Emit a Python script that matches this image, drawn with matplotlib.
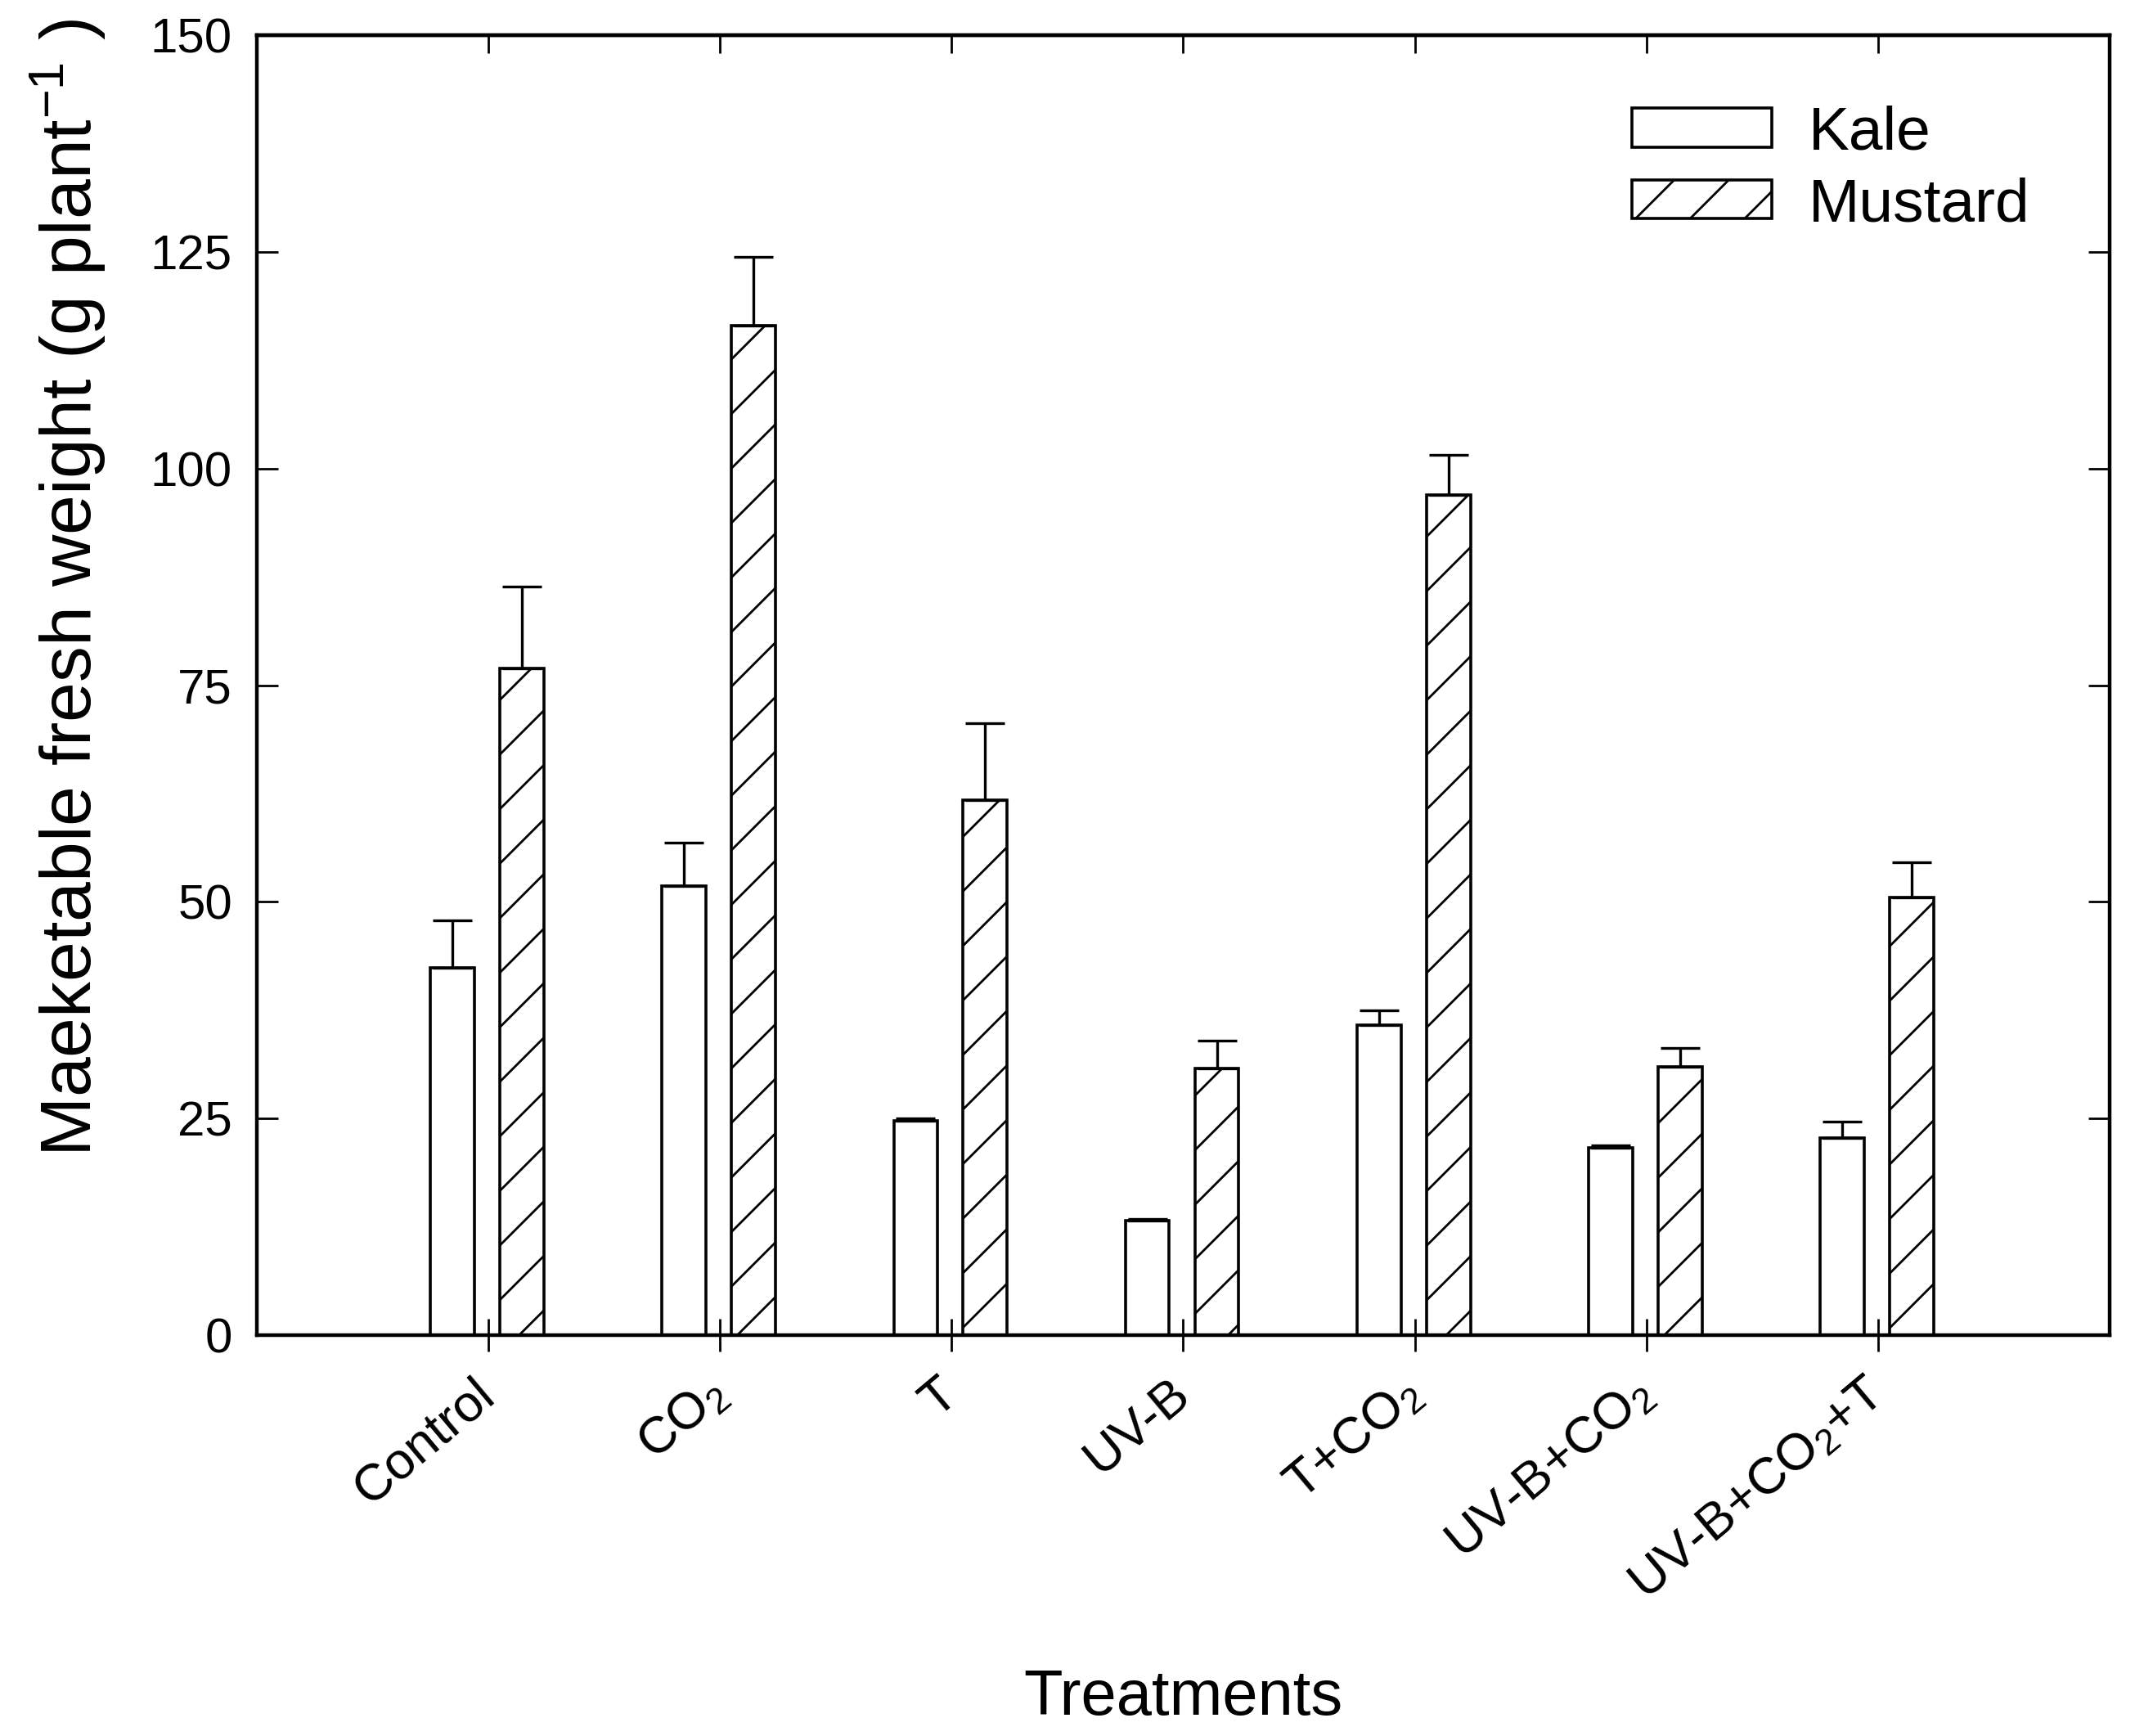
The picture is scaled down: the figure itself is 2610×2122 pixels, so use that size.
import matplotlib
matplotlib.use('Agg')
import matplotlib.pyplot as plt
import numpy as np

plt.rcParams['font.family'] = ['Liberation Sans', 'DejaVu Sans']
plt.rcParams['mathtext.fontset'] = 'custom'
plt.rcParams['mathtext.rm'] = 'Liberation Sans'
plt.rcParams['mathtext.it'] = 'Liberation Sans:italic'
plt.rcParams['hatch.linewidth'] = 0.5

# ---- data ----
treatments = ['Control', 'CO$_\\mathregular{2}$', 'T', 'UV-B', 'T+CO$_\\mathregular{2}$',
              'UV-B+CO$_\\mathregular{2}$', 'UV-B+CO$_\\mathregular{2}$+T']
kale = [42.4, 51.8, 24.7, 13.2, 35.8, 21.6, 22.8]
kale_err = [5.5, 5.0, 0.3, 0.25, 1.7, 0.3, 1.8]
mustard = [76.9, 116.5, 61.7, 30.8, 97.0, 31.0, 50.5]
mustard_err = [9.5, 7.9, 8.9, 3.2, 4.6, 2.1, 4.1]
yticks = [0, 25, 50, 75, 100, 125, 150]

fig = plt.figure(figsize=(6.525, 5.305), dpi=400)
ax = fig.add_axes([0.1203, 0.2309, 0.8678, 0.7488])

x = np.arange(len(treatments))
ekw = dict(elinewidth=0.6, capthick=0.6, ecolor='black')
ax.bar(x - 0.155, kale, 0.19, color='white', edgecolor='black', linewidth=0.65,
       label='Kale', yerr=[np.zeros(len(kale)), kale_err], capsize=4.3, error_kw=ekw)
ax.bar(x + 0.145, mustard, 0.19, color='white', edgecolor='black', linewidth=0.65,
       hatch='//', label='Mustard', yerr=[np.zeros(len(mustard)), mustard_err],
       capsize=4.3, error_kw=ekw)

ax.set_xlim(-1, 7)
ax.set_ylim(0, 150)
ax.set_yticks(yticks)
ax.set_xticks(x)
ax.set_xticklabels(treatments, rotation=40, ha='right', va='center', rotation_mode='anchor')

for s in ax.spines.values():
    s.set_linewidth(0.8)

ax.tick_params(axis='y', direction='in', length=4.7, width=0.5, right=True,
               labelsize=10.8, pad=5.4)
ax.tick_params(axis='x', direction='inout', length=7.2, width=0.5, top=False,
               labelsize=11.4, pad=8)

sec = ax.secondary_xaxis('top')
sec.set_xticks(x)
sec.set_xticklabels([])
sec.tick_params(direction='in', length=4, width=0.5)
sec.spines['top'].set_linewidth(0.8)

ax.set_xlabel('Treatments', fontsize=14)
ax.xaxis.set_label_coords(0.5, -0.279)
ax.xaxis.label.set_va('center')

ax.set_ylabel('Maeketable fresh weight (g plant$^{\\mathregular{-1}}$ )', fontsize=15.8)
ax.yaxis.set_label_coords(-0.1015, 0.575)
ax.yaxis.label.set_va('center')

ax.legend(loc='center left', bbox_to_anchor=(0.742, 0.897), frameon=False,
          fontsize=13.5, handlelength=2.29, handleheight=0.6, handletextpad=0.6,
          labelspacing=0.25, borderpad=0, borderaxespad=0)

fig.savefig('out.png', dpi=400)
